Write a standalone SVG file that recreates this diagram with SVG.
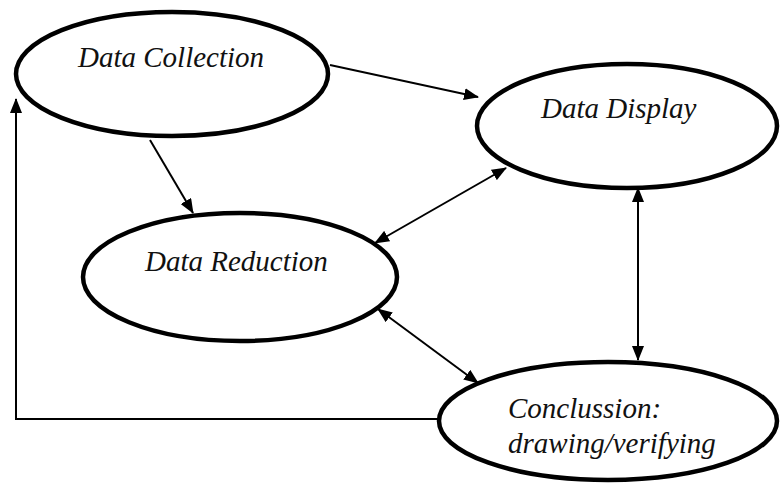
<svg xmlns="http://www.w3.org/2000/svg" width="781" height="484" viewBox="0 0 781 484">
<style>
.node ellipse{fill:#fff;stroke:#000;stroke-width:4.5}
.node text{font-family:"Liberation Serif","Times New Roman",serif;font-style:italic;font-size:29px;fill:#111}
.conn line,.conn polyline{stroke:#000;stroke-width:2;fill:none}
</style>
<defs>
<marker id="ah" markerUnits="userSpaceOnUse" markerWidth="15" markerHeight="12" refX="14" refY="6" orient="auto-start-reverse" viewBox="0 0 15 12">
<path d="M0,0 L15,6 L0,12 Z" fill="#000"/>
</marker>
</defs>
<rect width="781" height="484" fill="#fff"/>
<g class="conn">
<line x1="330" y1="65" x2="478" y2="97" marker-end="url(#ah)"/>
<line x1="150" y1="140" x2="193" y2="213" marker-end="url(#ah)"/>
<line x1="506" y1="168" x2="375" y2="243" marker-start="url(#ah)" marker-end="url(#ah)"/>
<line x1="638" y1="188" x2="638" y2="360" marker-start="url(#ah)" marker-end="url(#ah)"/>
<line x1="378" y1="309" x2="478" y2="383" marker-start="url(#ah)" marker-end="url(#ah)"/>
<polyline points="438,419 16,419 16,99" marker-end="url(#ah)"/>
</g>
<g id="data-collection" class="node">
<ellipse cx="172" cy="74" rx="156" ry="62"/>
<text x="78" y="67">Data Collection</text>
</g>
<g id="data-display" class="node">
<ellipse cx="627" cy="126" rx="150" ry="62"/>
<text x="541" y="118">Data Display</text>
</g>
<g id="data-reduction" class="node">
<ellipse cx="240" cy="277" rx="157" ry="64"/>
<text x="145" y="271">Data Reduction</text>
</g>
<g id="conclussion" class="node">
<ellipse cx="608" cy="421" rx="169" ry="59"/>
<text x="508" y="418">Conclussion:</text>
<text x="508" y="453">drawing/verifying</text>
</g>
</svg>
